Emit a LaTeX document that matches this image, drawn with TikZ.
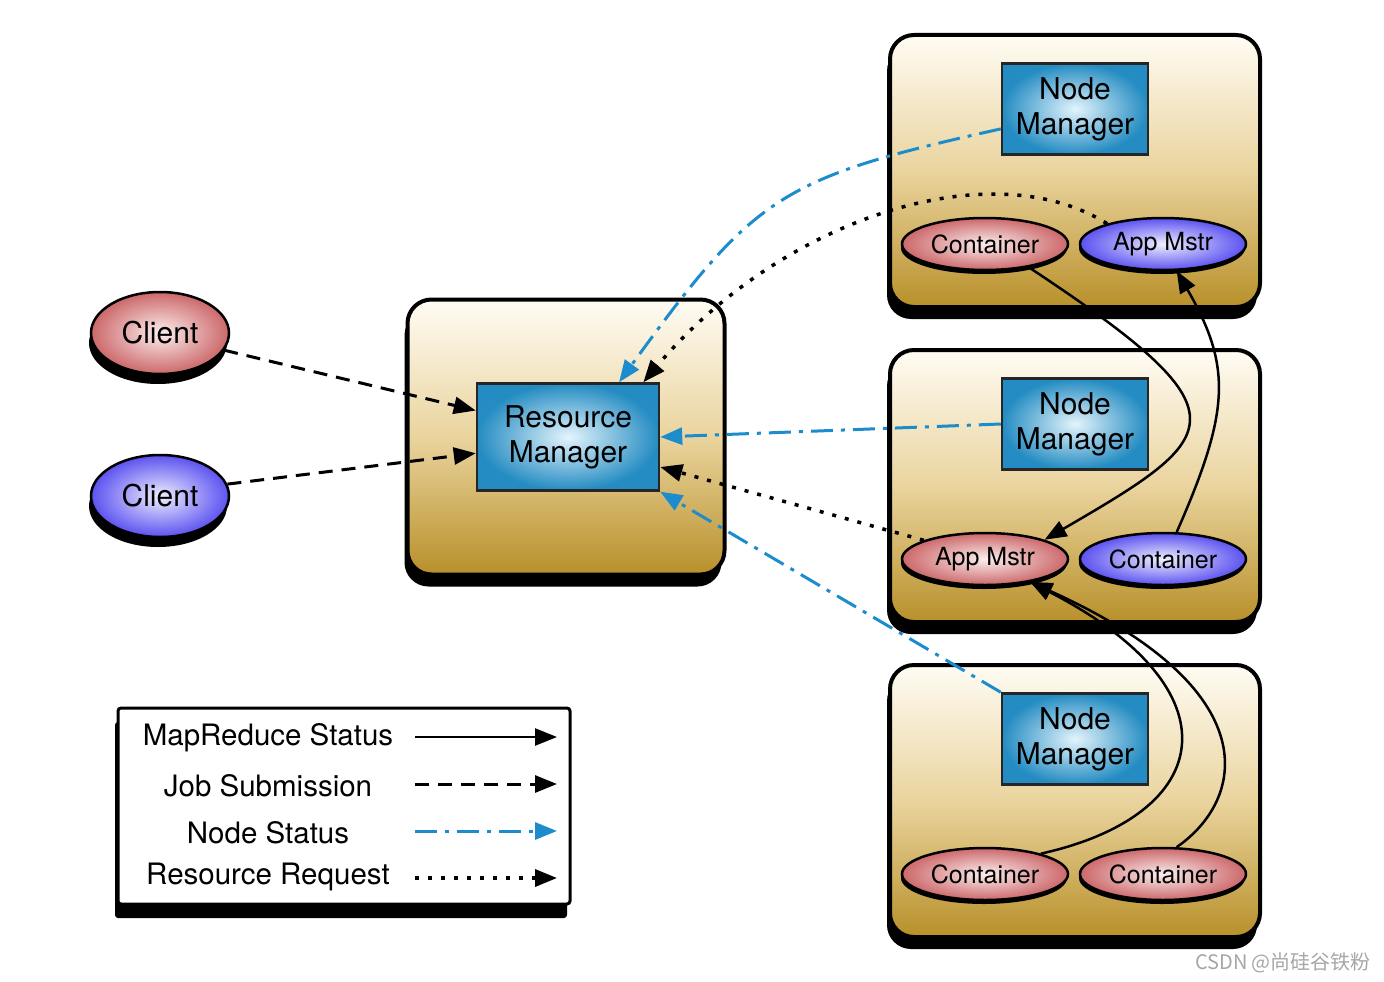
\documentclass[tikz,border=0pt]{standalone}
\usepackage{fontspec}
\setmainfont{TeX Gyre Heros}
\newfontfamily\cjkfont{Noto Sans CJK SC}
\usetikzlibrary{arrows.meta, shapes.geometric, shadows}
\definecolor{hosttop}{RGB}{255,252,244}
\definecolor{hostmid}{RGB}{234,212,158}
\definecolor{hostgold}{RGB}{184,144,42}
\definecolor{mgrblue}{RGB}{36,140,194}
\definecolor{mgrlight}{RGB}{228,244,252}
\definecolor{ovalred}{RGB}{204,104,106}
\definecolor{ovalredlt}{RGB}{252,238,238}
\definecolor{ovalblue}{RGB}{92,82,240}
\definecolor{ovalbluelt}{RGB}{238,238,255}
\definecolor{nsblue}{RGB}{28,140,204}
\newcommand{\mgrfont}{\fontsize{30}{35}\selectfont}
\newcommand{\ovalfont}{\fontsize{25}{28}\selectfont}
\newcommand{\lgfont}{\fontsize{29.5}{33}\selectfont}
\tikzset{
  hostbox/.style  = {draw, line width=4pt, rounded corners=24pt,
                     top color=hosttop, bottom color=hostgold, middle color=hostmid,
                     drop shadow={shadow xshift=-3pt, shadow yshift=-12pt, opacity=1, fill=black}},
  mgrbox/.style   = {draw=black!85, line width=2.5pt, inner color=mgrlight, outer color=mgrblue,
                     align=center, font=\mgrfont, minimum width=146pt, minimum height=91pt},
  oval/.style     = {ellipse, draw, line width=2.5pt, inner sep=0pt, font=\ovalfont,
                     minimum width=166pt, minimum height=52pt,
                     drop shadow={shadow xshift=-1pt, shadow yshift=-4pt, opacity=1, fill=black}},
  redoval/.style  = {oval, inner color=ovalredlt, outer color=ovalred},
  blueoval/.style = {oval, inner color=ovalbluelt, outer color=ovalblue},
  client/.style   = {font=\mgrfont, minimum width=138pt, minimum height=82pt,
                     drop shadow={shadow xshift=-2pt, shadow yshift=-10pt, opacity=1, fill=black}},
  jobline/.style  = {-{Triangle[length=22pt,width=17pt]}, line width=3pt, dash pattern=on 14pt off 9pt},
  statusline/.style = {-{Triangle[length=22pt,width=17pt]}, line width=3pt, nsblue,
                     dash pattern=on 22pt off 8pt on 4pt off 8pt},
  reqline/.style  = {-{Triangle[length=22pt,width=17pt]}, line width=3.5pt, dash pattern=on 4pt off 9pt},
  mrline/.style   = {-{Triangle[length=22pt,width=17pt]}, line width=2.5pt},
  lbl/.style      = {font=\lgfont},
}
% one worker host: box, node manager and two ovals
\newcommand{\hostunit}[6]{%
  \pgfmathsetmacro{\hy}{#1+136}
  \node[hostbox, minimum width=370pt, minimum height=272pt] (host#2) at (1075,\hy) {};
  \node[mgrbox] (nm#2) at (1075,#1+74) {Node\\Manager};
  \node[#3] (l#2) at (985,#1+209) {#4};
  \node[#5] (r#2) at (1163,#1+209) {#6};
}

\begin{document}
\begin{tikzpicture}[x=1pt, y=-1pt]
  \useasboundingbox (0,0) rectangle (1384,982);
  % resource manager
  \node[hostbox, minimum width=317pt, minimum height=275pt] (rmhost) at (566,437) {};
  \node[mgrbox, minimum width=182pt, minimum height=107pt] (rm) at (568,437) {Resource\\Manager};
  % clients
  \node[redoval, client] (cl1) at (160,333) {Client};
  \node[blueoval, client] (cl2) at (160,496) {Client};
  % hosts
  \hostunit{35}{1}{redoval}{Container}{blueoval}{App Mstr}
  \hostunit{350}{2}{redoval}{App Mstr}{blueoval}{Container}
  \hostunit{665}{3}{redoval}{Container}{redoval}{Container}
  % job submission
  \draw[jobline] (cl1.-15) -- (rm.164);
  \draw[jobline] (cl2.10) -- (rm.190);
  % node status
  \draw[statusline] (nm1.195) .. controls (780,178) and (755,195) .. (rm.47);
  \draw[statusline] (nm2.west) -- (rm.east);
  \draw[statusline] (nm3.north west) -- (rm.south east);
  % resource request
  \draw[reqline] (r1.160) .. controls (990,150) and (780,220) .. (rm.36);
  \draw[reqline] (l2.163) -- (rm.-18);
  % mapreduce status
  \draw[mrline] (l1.-28) .. controls (1251,414) and (1225,435) .. (l2.north east);
  \draw[mrline] (r2.63) .. controls (1230,411) and (1232,367) .. (r1.-63);
  \draw[mrline] (l3.20) .. controls (1215,815) and (1240,690) .. (l2.-27);
  \draw[mrline] (r3.63) .. controls (1245,800) and (1270,690) .. (l2.-27);
  % legend
  \node[draw, line width=3pt, fill=white, rounded corners=3pt, minimum width=452pt, minimum height=196pt,
        drop shadow={shadow xshift=-3pt, shadow yshift=-14pt, opacity=1, fill=black}] (legend) at (344,806) {};
  \node[lbl] (lg1) at (268,738) {MapReduce Status};
  \node[lbl] (lg2) at (268,786) {Job Submission};
  \node[lbl] (lg3) at (268,833) {Node Status};
  \node[lbl] (lg4) at (268,877) {Resource Request};
  \coordinate (lg1a) at (415,737); \coordinate (lg1b) at (557,737);
  \coordinate (lg2a) at (415,784); \coordinate (lg2b) at (557,784);
  \coordinate (lg3a) at (415,831); \coordinate (lg3b) at (557,831);
  \coordinate (lg4a) at (415,878); \coordinate (lg4b) at (557,878);
  \draw[mrline] (lg1a) -- (lg1b);
  \draw[jobline] (lg2a) -- (lg2b);
  \draw[statusline] (lg3a) -- (lg3b);
  \draw[reqline] (lg4a) -- (lg4b);
  % watermark
  \node[font=\cjkfont\fontsize{20}{24}\selectfont, text=black!35] (wm) at (1283,963) {CSDN @尚硅谷铁粉};
\end{tikzpicture}
\end{document}
